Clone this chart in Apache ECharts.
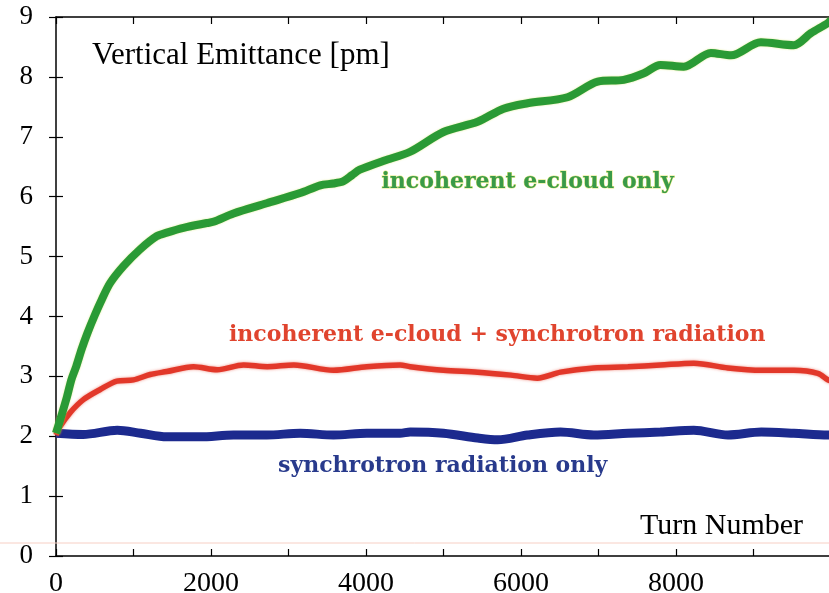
<!DOCTYPE html>
<html>
<head>
<meta charset="utf-8">
<script src="https://cdn.jsdelivr.net/npm/echarts@6/dist/echarts.min.js"></script>
<style>html,body{margin:0;padding:0;background:#fff}#c{width:829px;height:593px}</style>
</head>
<body>
<div id="c"></div>
<script>
// ---- data ----
const xTicks = [0, 2000, 4000, 6000, 8000];
const yTicks = [0, 1, 2, 3, 4, 5, 6, 7, 8, 9];

const greenTurns = [0, 60, 140, 200, 262, 330, 405, 500, 590, 700, 870, 1085, 1300, 1430, 1645, 1947, 2030, 2290, 2720, 3150, 3410, 3580, 3710, 3820, 3920, 4230, 4570, 5000, 5440, 5775, 6085, 6600, 6990, 7325, 7585, 7800, 8100, 8450, 8710, 9095, 9520, 9740, 9960, 10000];
const greenVals  = [2.05, 2.3, 2.65, 2.95, 3.17, 3.45, 3.72, 4.02, 4.28, 4.56, 4.84, 5.12, 5.34, 5.40, 5.48, 5.56, 5.58, 5.72, 5.89, 6.06, 6.19, 6.22, 6.26, 6.36, 6.45, 6.60, 6.75, 7.08, 7.25, 7.47, 7.56, 7.66, 7.92, 7.95, 8.06, 8.20, 8.17, 8.40, 8.36, 8.58, 8.53, 8.73, 8.90, 8.95];

const redTurns = [0, 52, 180, 353, 570, 785, 1000, 1215, 1430, 1775, 2080, 2420, 2725, 3070, 3580, 4010, 4440, 4570, 5000, 5440, 5870, 6210, 6510, 6940, 7380, 7800, 8230, 8670, 9100, 9520, 9830, 9960, 10000];
const redVals  = [2.02, 2.16, 2.39, 2.61, 2.78, 2.92, 2.94, 3.03, 3.08, 3.16, 3.11, 3.19, 3.16, 3.19, 3.10, 3.16, 3.19, 3.16, 3.10, 3.07, 3.02, 2.97, 3.07, 3.14, 3.16, 3.19, 3.22, 3.14, 3.10, 3.10, 3.05, 2.94, 2.92];

const blueTurns = [0, 350, 790, 1090, 1430, 1860, 2290, 2720, 3150, 3580, 4010, 4440, 4570, 5000, 5440, 5700, 6085, 6510, 6940, 7380, 7800, 8230, 8670, 9100, 9520, 9960, 10000];
const blueVals  = [2.05, 2.03, 2.10, 2.05, 1.99, 1.99, 2.02, 2.02, 2.05, 2.02, 2.05, 2.05, 2.07, 2.05, 1.97, 1.94, 2.02, 2.07, 2.02, 2.05, 2.07, 2.10, 2.02, 2.07, 2.05, 2.02, 2.02];

const pairs = (xs, ys) => xs.map((x, i) => [x, ys[i]]);

const chart = echarts.init(document.getElementById('c'), null, {renderer: 'canvas'});
const serif = '"Liberation Serif", "Times New Roman", serif';
const slab = '"DejaVu Serif", serif';

const axisLineStyle = {color: '#000', width: 1.5};
const tickStyle = {show: true, inside: true, length: 7, lineStyle: {color: '#000', width: 1.2}};
chart.setOption({
  animation: false,
  backgroundColor: '#fff',
  grid: {left: 56, top: 17, width: 775, bottom: 37, containLabel: false, outerBoundsMode: 'none'},
  xAxis: [{
    type: 'value', position: 'bottom', min: 0, max: 10000, interval: 1000,
    axisLine: {show: true, lineStyle: axisLineStyle, onZero: false},
    axisTick: tickStyle,
    axisLabel: {
      show: true, margin: 14, fontFamily: serif, fontSize: 28, color: '#000',
      formatter: v => (xTicks.indexOf(v) >= 0 ? String(v) : '')
    },
    splitLine: {show: false}
  }, {
    type: 'value', position: 'top', min: 0, max: 10000, interval: 1000,
    axisLine: {show: true, lineStyle: axisLineStyle, onZero: false},
    axisTick: tickStyle,
    axisLabel: {show: false}, splitLine: {show: false}
  }],
  yAxis: [{
    type: 'value', position: 'left', min: 0, max: 9, interval: 1,
    axisLine: {show: true, lineStyle: axisLineStyle, onZero: false},
    axisTick: tickStyle,
    axisLabel: {
      show: true, margin: 23, fontFamily: serif, fontSize: 27, color: '#000',
      padding: [4, 0, 0, 0],
      formatter: v => (yTicks.indexOf(v) >= 0 ? String(v) : '')
    },
    splitLine: {show: false}
  }, {
    type: 'value', position: 'right', min: 0, max: 9, interval: 1,
    axisLine: {show: false},
    axisTick: tickStyle,
    axisLabel: {show: false}, splitLine: {show: false}
  }],
  series: [{
    name: 'synchrotron radiation only', type: 'line', xAxisIndex: 0, yAxisIndex: 0,
    data: pairs(blueTurns, blueVals), showSymbol: false, smooth: 0.3,
    lineStyle: {color: '#1c2a8e', width: 9}, z: 3
  }, {
    name: 'incoherent e-cloud + synchrotron radiation', type: 'line', xAxisIndex: 0, yAxisIndex: 0,
    data: pairs(redTurns, redVals), showSymbol: false, smooth: 0.3,
    lineStyle: {color: '#e2382a', width: 5.5, shadowColor: 'rgba(230,70,50,0.6)', shadowBlur: 3}, z: 4
  }, {
    name: 'incoherent e-cloud only', type: 'line', xAxisIndex: 0, yAxisIndex: 0,
    data: pairs(greenTurns, greenVals), showSymbol: false, smooth: 0.3,
    lineStyle: {color: '#2a9a35', width: 8, shadowColor: 'rgba(200,220,60,0.6)', shadowBlur: 2}, z: 5
  }],
  graphic: [
    {type: 'line', shape: {x1: 0, y1: 543, x2: 829, y2: 543}, style: {stroke: '#f7cfc4', lineWidth: 1}, z: 1},
    {type: 'text', left: 92, top: 40, style: {text: 'Vertical Emittance [pm]', font: '31px ' + serif, fill: '#000'}},
    {type: 'text', left: 640, top: 511, style: {text: 'Turn Number', font: '30px ' + serif, fill: '#000'}},
    {type: 'text', left: 381, top: 171, style: {text: 'incoherent e-cloud only', font: 'bold 22px ' + slab, fill: '#3a9a48', stroke: '#e6ea80', lineWidth: 1}},
    {type: 'text', left: 229, top: 324, style: {text: 'incoherent e-cloud + synchrotron radiation', font: 'bold 22px ' + slab, fill: '#e0442e'}},
    {type: 'text', left: 278, top: 455, style: {text: 'synchrotron radiation only', font: 'bold 22px ' + slab, fill: '#283a8c'}}
  ]
});
</script>
</body>
</html>
